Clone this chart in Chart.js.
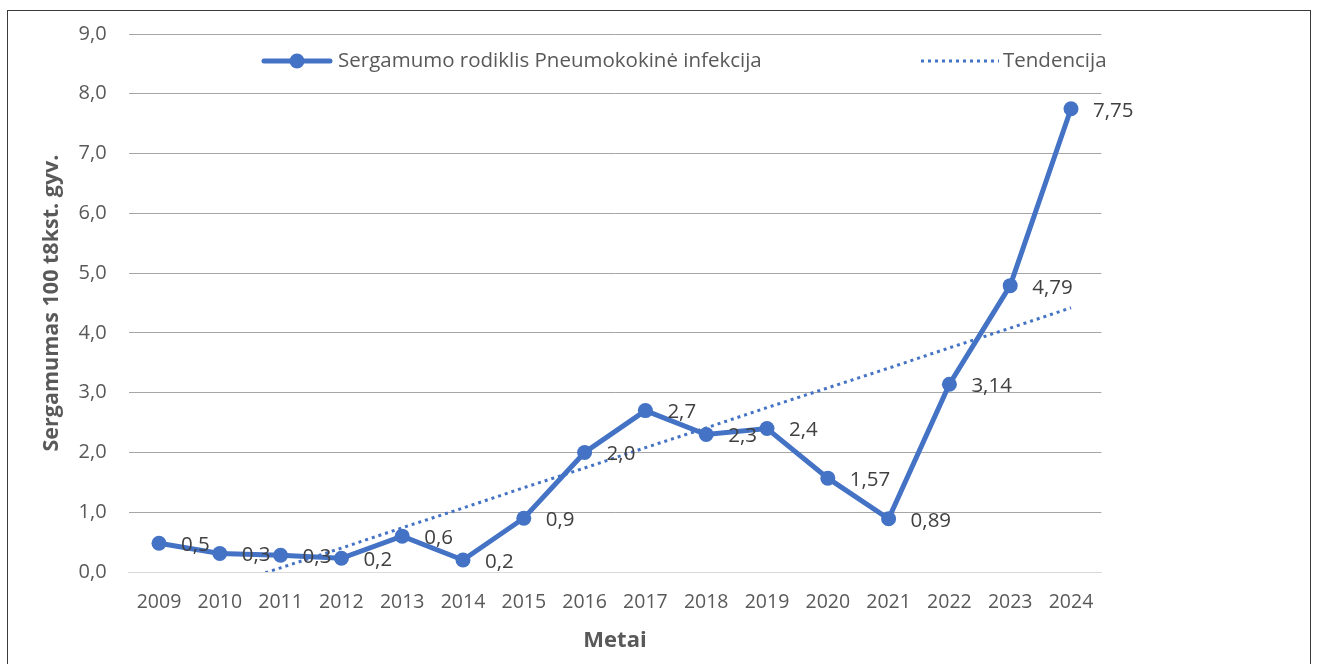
<!DOCTYPE html>
<html>
<head>
<meta charset="utf-8">
<script src="https://cdn.jsdelivr.net/npm/chart.js@4"></script>
<style>
html,body{margin:0;padding:0;background:#fff;overflow:hidden;}
#wrap{position:absolute;left:0;top:0;width:1318px;height:664px;}
#frame{position:absolute;left:7px;top:10px;width:1304px;height:700px;border:1.5px solid #3a3a3a;box-sizing:border-box;}
canvas{position:absolute;left:0;top:0;}
</style>
</head>
<body>
<div id="wrap">
<div id="frame"></div>
<canvas id="c" width="1318" height="664"></canvas>
</div>
<script>
const years = ['2009','2010','2011','2012','2013','2014','2015','2016','2017','2018','2019','2020','2021','2022','2023','2024'];
const rate = [0.48,0.31,0.28,0.23,0.6,0.2,0.9,2.0,2.7,2.3,2.4,1.57,0.89,3.14,4.79,7.75];
const rateLabels = ['0,5','0,3','0,3','0,2','0,6','0,2','0,9','2,0','2,7','2,3','2,4','1,57','0,89','3,14','4,79','7,75'];
const trend = [-0.60,-0.26,0.07,0.40,0.74,1.07,1.41,1.74,2.08,2.41,2.75,3.08,3.41,3.75,4.08,4.42];
const seriesName = 'Sergamumo rodiklis Pneumokokinė infekcija';
const trendName = 'Tendencija';
const yTitle = 'Sergamumas 100 t8kst. gyv.';
const xTitle = 'Metai';

const BLUE = '#4472C4';
const FONT = "'Open Sans', sans-serif";

const labelPlugin = {
  id: 'valueLabels',
  afterDatasetsDraw(chart) {
    const ctx = chart.ctx;
    const meta = chart.getDatasetMeta(0);
    ctx.save();
    ctx.font = '20.5px ' + FONT;
    ctx.fillStyle = '#404040';
    ctx.textAlign = 'left';
    ctx.textBaseline = 'middle';
    meta.data.forEach((pt, i) => {
      ctx.fillText(rateLabels[i], pt.x + 22, pt.y + 2);
    });
    ctx.restore();
  }
};

const legendPlugin = {
  id: 'customLegend',
  afterDraw(chart) {
    const ctx = chart.ctx;
    const y = 61;
    ctx.save();
    ctx.strokeStyle = BLUE;
    ctx.lineWidth = 5;
    ctx.lineCap = 'round';
    ctx.beginPath(); ctx.moveTo(264, y); ctx.lineTo(330, y); ctx.stroke();
    ctx.fillStyle = BLUE;
    ctx.beginPath(); ctx.arc(297, y, 7.5, 0, Math.PI * 2); ctx.fill();
    ctx.lineWidth = 3;
    ctx.lineCap = 'butt';
    ctx.setLineDash([3, 4]);
    ctx.beginPath(); ctx.moveTo(921, y); ctx.lineTo(999, y); ctx.stroke();
    ctx.setLineDash([]);
    ctx.font = '20.5px ' + FONT;
    ctx.fillStyle = '#595959';
    ctx.textBaseline = 'middle';
    ctx.textAlign = 'left';
    ctx.fillText(seriesName, 338, y);
    ctx.fillText(trendName, 1003, y);
    ctx.restore();
  }
};

new Chart(document.getElementById('c'), {
  type: 'line',
  data: {
    labels: years,
    datasets: [
      {
        label: seriesName,
        data: rate,
        borderColor: BLUE,
        backgroundColor: BLUE,
        borderWidth: 5,
        pointRadius: 7.5,
        pointHoverRadius: 7.5,
        pointBackgroundColor: BLUE,
        pointBorderWidth: 0,
        tension: 0,
        order: 1
      },
      {
        label: trendName,
        data: trend,
        borderColor: BLUE,
        borderWidth: 3,
        borderDash: [3, 4],
        pointRadius: 0,
        fill: false,
        tension: 0,
        order: 2
      }
    ]
  },
  options: {
    responsive: false,
    animation: false,
    devicePixelRatio: 1,
    layout: { padding: { left: 0, right: 216.6, top: 32, bottom: 0 } },
    plugins: { legend: { display: false }, tooltip: { enabled: false } },
    scales: {
      x: {
        offset: true,
        grid: { display: false, drawTicks: false },
        border: { display: true, color: '#d9d9d9', width: 1 },
        ticks: { color: '#595959', font: { family: FONT, size: 19.5 }, padding: 19, maxRotation: 0, autoSkip: false },
        title: { display: true, text: xTitle, color: '#595959', font: { family: FONT, size: 22, weight: 'bold' }, padding: { top: 0, bottom: 10 } },
        afterFit(s) { s.height = 92; }
      },
      y: {
        min: 0,
        max: 9,
        grid: {
          drawTicks: false,
          color: (c) => (c.tick && c.tick.value === 0) ? '#d9d9d9' : '#a6a6a6',
          lineWidth: 1
        },
        border: { display: false },
        ticks: {
          stepSize: 1,
          padding: 22,
          color: '#595959',
          font: { family: FONT, size: 20 },
          callback: (v) => Number(v).toFixed(1).replace('.', ',')
        },
        title: { display: true, text: yTitle, color: '#595959', font: { family: FONT, size: 21.5, weight: 'bold' }, padding: { top: 39, bottom: 0 } },
        afterFit(s) { s.width = 128.6; }
      }
    }
  },
  plugins: [labelPlugin, legendPlugin]
});
</script>
</body>
</html>
